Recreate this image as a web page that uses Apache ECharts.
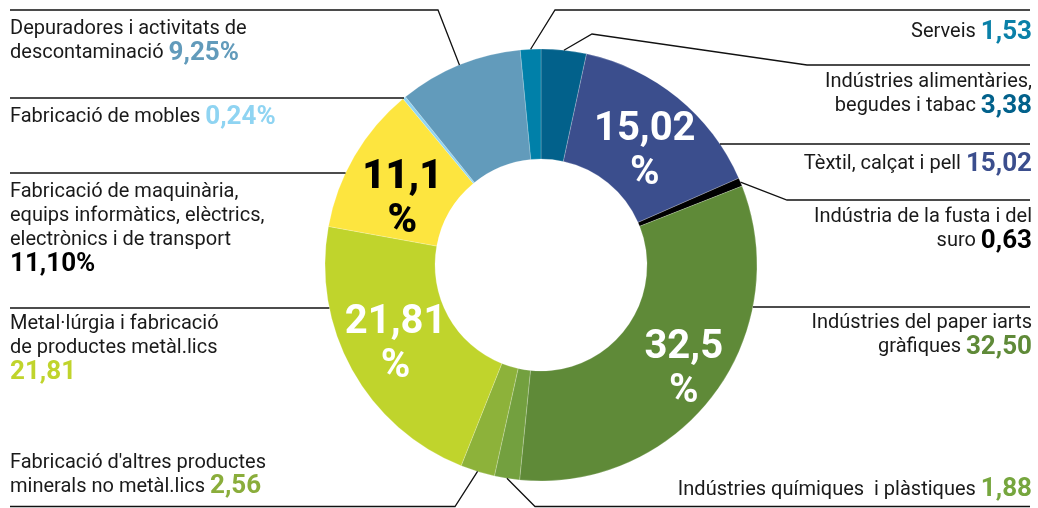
<!DOCTYPE html>
<html>
<head>
<meta charset="utf-8">
<style>
  html, body { margin: 0; padding: 0; background: #fff; }
  #main { width: 1038px; height: 508px; }
</style>
<script src="https://cdn.jsdelivr.net/npm/echarts@6/dist/echarts.min.js"></script>
</head>
<body>
<div id="main"></div>
<script>
// sectors, clockwise from 12 o'clock
const sectors = [
  'Indústries alimentàries,\nbegudes i tabac',
  'Tèxtil, calçat i pell',
  'Indústria de la fusta i del\nsuro',
  'Indústries del paper iarts\ngràfiques ',
  'Indústries químiques  i plàstiques',
  "Fabricació d'altres productes\nminerals no metàl.lics",
  'Metal·lúrgia i fabricació\nde productes metàl.lics\n',
  'Fabricació de maquinària,\nequips informàtics, elèctrics,\nelectrònics i de transport\n',
  'Fabricació de mobles',
  'Depuradores i activitats de\ndescontaminació',
  'Serveis '
];
const values = [3.38, 15.02, 0.63, 32.50, 1.88, 2.56, 21.81, 11.10, 0.24, 9.25, 1.53];
const percentSign = [false, false, false, false, false, false, false, true, true, true, false];
const insideShown = [false, true, false, true, false, false, true, true, false, false, false];

const sliceColors = ['#02618b', '#3b4e8d', '#000000', '#5f8a38', '#73a03f', '#8db23a',
  '#c0d42c', '#fde53f', '#8fd4f2', '#629bbb', '#0080a9'];
const valueColors = ['#02618b', '#3b4e8d', '#000000', '#5f8a38', '#76a63e', '#8aad3b',
  '#c0d42c', '#000000', '#8fd4f2', '#629bbb', '#0a80a8'];
const insideColors = ['#fff', '#fff', '#fff', '#fff', '#fff', '#fff', '#fff', '#000', '#fff', '#fff', '#fff'];
// nudges for the big percentages inside the ring
const insideOffsets = [[0, 0], [0, 14], [0, 0], [12, 6], [0, 0], [0, 0], [-2, 0], [3, 18], [0, 0], [0, 0], [0, 0]];

const FONT = 'Roboto';
const cx = 541, cy = 265, rIn = 106, rOut = 216;

// label placement: which side, y of the rule line, text gap, extra bends of the leader
const guides = [
  { side: 'R', y: 65, dy: 5, bends: [[592, 34], [807, 65]] },
  { side: 'R', y: 144, dy: 8, flat: true },
  { side: 'R', y: 200, dy: 5, bends: [[787, 200]] },
  { side: 'R', y: 307, dy: 4, flat: true },
  { side: 'R', y: 506.5, dy: 5, bends: [[535, 506.5]], above: true },
  { side: 'L', y: 506.5, dy: 8, bends: [[455, 506.5]], above: true },
  { side: 'L', y: 308, dy: 4, flat: true },
  { side: 'L', y: 173, dy: 7, flat: true },
  { side: 'L', y: 98, dy: 7, flat: true },
  { side: 'L', y: 10, dy: 7, bends: [[438, 10]] },
  { side: 'R', y: 10, dy: 10, bends: [[555, 10]] }
];

function comma(v, fixed) {
  return (fixed ? v.toFixed(2) : String(v)).replace('.', ',');
}

const rich = { n: { fontFamily: FONT, fontSize: 20, color: '#1a1a1a', lineHeight: 24 } };
values.forEach((v, i) => {
  rich['v' + i] = { fontFamily: FONT, fontSize: 26, fontWeight: 'bold', color: valueColors[i], lineHeight: 24 };
});

const sliceData = values.map((v, i) => ({
  value: v,
  name: sectors[i],
  itemStyle: { color: sliceColors[i] },
  label: {
    show: insideShown[i],
    color: insideColors[i],
    fontWeight: i === 7 ? 900 : 'bold',
    offset: insideOffsets[i]
  }
}));

const labelData = values.map((v, i) => ({
  value: v,
  name: sectors[i]
}));

var myChart = echarts.init(document.getElementById('main'));

option = {
  animation: false,
  series: [
    {
      type: 'pie',
      center: [cx, cy],
      radius: [rIn, rOut],
      startAngle: 90,
      clockwise: true,
      avoidLabelOverlap: false,
      silent: true,
      itemStyle: { borderColor: 'rgba(255,255,255,0.35)', borderWidth: 0.6 },
      label: {
        position: 'inside',
        fontFamily: FONT,
        fontSize: 40,
        lineHeight: 44,
        formatter: (p) => comma(p.value, false) + '\n%'
      },
      labelLine: { show: false },
      data: sliceData
    },
    {
      type: 'pie',
      center: [cx, cy],
      radius: [rIn, rOut],
      startAngle: 90,
      clockwise: true,
      avoidLabelOverlap: false,
      silent: true,
      z: 3,
      itemStyle: { color: 'rgba(0,0,0,0)' },
      label: {
        position: 'outside',
        color: '#1a1a1a',
        rich: rich,
        formatter: (p) => {
          const i = p.dataIndex;
          const sep = sectors[i].endsWith('\n') || sectors[i].endsWith(' ') ? '' : ' ';
          const val = comma(values[i], true) + (percentSign[i] ? '%' : '');
          return '{n|' + sectors[i] + sep + '}{v' + i + '|' + val + '}';
        }
      },
      labelLine: { show: true, lineStyle: { color: '#111', width: 1.3 } },
      labelLayout: (params) => {
        const g = guides[params.dataIndex];
        const right = g.side === 'R';
        let start;
        if (g.flat) {
          const dx = Math.sqrt(rOut * rOut - (g.y - cy) * (g.y - cy));
          start = [right ? cx + dx : cx - dx, g.y];
        } else if (params.labelLinePoints) {
          start = params.labelLinePoints[0];
        } else {
          let before = 0;
          for (let k = 0; k < params.dataIndex; k++) before += values[k];
          const total = values.reduce((a, b) => a + b, 0);
          const a = (before + values[params.dataIndex] / 2) / total * Math.PI * 2;
          start = [cx + rOut * Math.sin(a), cy - rOut * Math.cos(a)];
        }
        const pts = [start].concat(g.bends || [], [[right ? 1030 : 10, g.y]]);
        return {
          x: right ? 1032 : 10,
          y: g.above ? g.y - g.dy : g.y + g.dy,
          align: right ? 'right' : 'left',
          verticalAlign: g.above ? 'bottom' : 'top',
          labelLinePoints: pts
        };
      },
      data: labelData
    }
  ]
};

myChart.setOption(option);
</script>
</body>
</html>
